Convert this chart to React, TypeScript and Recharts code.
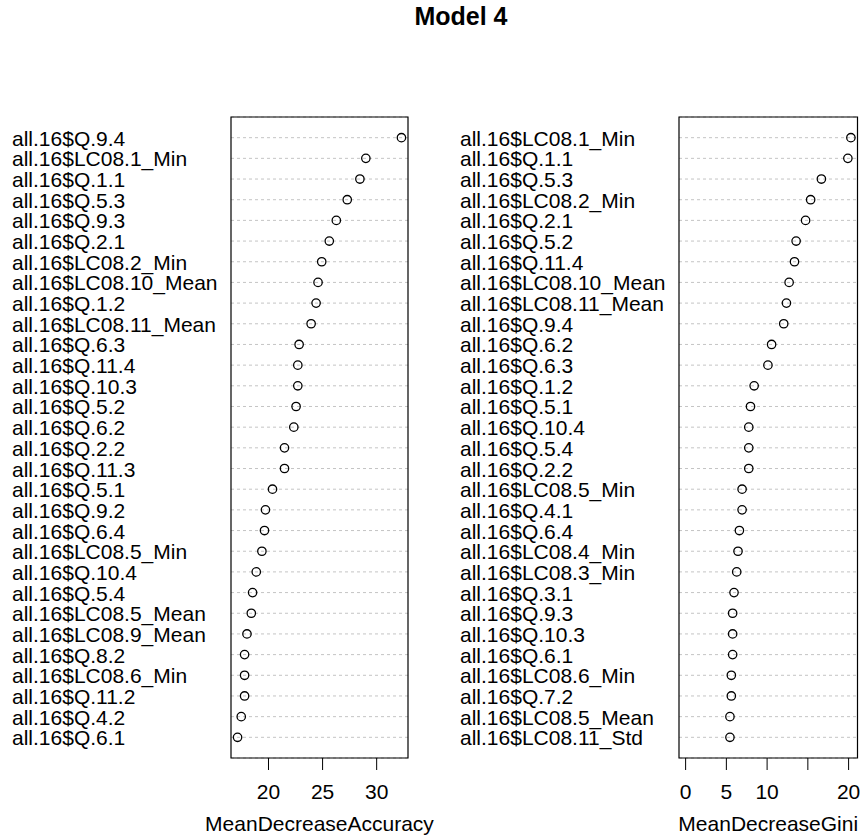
import React from "react";
import {
  ScatterChart,
  Scatter,
  XAxis,
  YAxis,
  CartesianGrid,
  ReferenceArea,
} from "recharts";

const accLabels = [
  "all.16$Q.9.4", "all.16$LC08.1_Min", "all.16$Q.1.1", "all.16$Q.5.3", "all.16$Q.9.3",
  "all.16$Q.2.1", "all.16$LC08.2_Min", "all.16$LC08.10_Mean", "all.16$Q.1.2", "all.16$LC08.11_Mean",
  "all.16$Q.6.3", "all.16$Q.11.4", "all.16$Q.10.3", "all.16$Q.5.2", "all.16$Q.6.2",
  "all.16$Q.2.2", "all.16$Q.11.3", "all.16$Q.5.1", "all.16$Q.9.2", "all.16$Q.6.4",
  "all.16$LC08.5_Min", "all.16$Q.10.4", "all.16$Q.5.4", "all.16$LC08.5_Mean", "all.16$LC08.9_Mean",
  "all.16$Q.8.2", "all.16$LC08.6_Min", "all.16$Q.11.2", "all.16$Q.4.2", "all.16$Q.6.1",
];
const accValues = [
  32.29, 29.0, 28.45, 27.28, 26.27, 25.62, 24.92, 24.58, 24.4, 23.94,
  22.83, 22.71, 22.71, 22.55, 22.34, 21.48, 21.48, 20.37, 19.72, 19.63,
  19.39, 18.87, 18.53, 18.41, 18.01, 17.79, 17.79, 17.79, 17.48, 17.14,
];
const accTicks = [20, 25, 30];
const accTickLabels = ["20", "25", "30"];

const giniLabels = [
  "all.16$LC08.1_Min", "all.16$Q.1.1", "all.16$Q.5.3", "all.16$LC08.2_Min", "all.16$Q.2.1",
  "all.16$Q.5.2", "all.16$Q.11.4", "all.16$LC08.10_Mean", "all.16$LC08.11_Mean", "all.16$Q.9.4",
  "all.16$Q.6.2", "all.16$Q.6.3", "all.16$Q.1.2", "all.16$Q.5.1", "all.16$Q.10.4",
  "all.16$Q.5.4", "all.16$Q.2.2", "all.16$LC08.5_Min", "all.16$Q.4.1", "all.16$Q.6.4",
  "all.16$LC08.4_Min", "all.16$LC08.3_Min", "all.16$Q.3.1", "all.16$Q.9.3", "all.16$Q.10.3",
  "all.16$Q.6.1", "all.16$LC08.6_Min", "all.16$Q.7.2", "all.16$LC08.5_Mean", "all.16$LC08.11_Std",
];
const giniValues = [
  20.28, 19.91, 16.66, 15.34, 14.72, 13.56, 13.36, 12.7, 12.37, 12.04,
  10.55, 10.1, 8.41, 7.96, 7.75, 7.75, 7.75, 6.93, 6.93, 6.6,
  6.43, 6.27, 5.94, 5.77, 5.77, 5.77, 5.61, 5.61, 5.44, 5.44,
];
const giniTicks = [0, 5, 10, 15, 20];
const giniTickLabels = ["0", "5", "10", "", "20"];

const TITLE = "Model 4";
const FONT = '"Liberation Sans", Arial, Helvetica, sans-serif';

function padDomain(lo: number, hi: number): [number, number] {
  const r = hi - lo;
  return [lo - 0.04 * r, hi + 0.04 * r];
}

type PanelProps = {
  labels: string[];
  values: number[];
  ticks: number[];
  tickLabels: string[];
  domain: [number, number];
  xTitle: string;
  left: number;
  width: number;
  yAxisWidth: number;
  marginRight: number;
  labelX: number;
};

function Panel(p: PanelProps) {
  const n = p.labels.length;
  const data = p.values.map((v, i) => ({ x: v, y: n - i }));
  const rowTicks = data.map((d) => d.y).reverse();
  const plotCenter = (p.yAxisWidth + p.width - p.marginRight) / 2;
  return (
    <div style={{ position: "absolute", left: p.left, top: 0 }}>
      <ScatterChart
        width={p.width}
        height={836}
        margin={{ top: 117, right: p.marginRight, bottom: 0, left: 0 }}
      >
        <CartesianGrid
          vertical={false}
          stroke="#c4c4c4"
          strokeDasharray="3 3"
        />
        <XAxis
          type="number"
          dataKey="x"
          domain={p.domain}
          allowDataOverflow
          ticks={p.ticks}
          interval={0}
          height={78}
          axisLine={false}
          tickSize={12}
          tickLine={{ stroke: "#000", strokeWidth: 1 }}
          tick={(t: any) => {
            const idx = p.ticks.indexOf(t.payload.value);
            return (
              <text
                x={t.x}
                y={799}
                textAnchor="middle"
                fontSize={21}
                fontFamily={FONT}
                fill="#000"
              >
                {idx >= 0 ? p.tickLabels[idx] : ""}
              </text>
            );
          }}
          label={() => (
            <text
              x={plotCenter}
              y={830.5}
              textAnchor="middle"
              fontSize={21}
              fontFamily={FONT}
              fill="#000"
            >
              {p.xTitle}
            </text>
          )}
        />
        <YAxis
          type="number"
          dataKey="y"
          domain={[0, n + 1]}
          allowDataOverflow
          ticks={rowTicks}
          interval={0}
          width={p.yAxisWidth}
          axisLine={false}
          tickLine={false}
          tick={(t: any) => (
            <text
              x={p.labelX}
              y={t.y + 8}
              textAnchor="start"
              fontSize={21}
              fontFamily={FONT}
              fill="#000"
            >
              {p.labels[n - t.payload.value]}
            </text>
          )}
        />
        <ReferenceArea
          x1={p.domain[0]}
          x2={p.domain[1]}
          y1={0}
          y2={n + 1}
          fill="none"
          fillOpacity={0}
          stroke="#000"
          strokeWidth={1.2}
          ifOverflow="visible"
        />
        <Scatter
          data={data}
          isAnimationActive={false}
          shape={(s: any) => (
            <circle
              cx={s.cx}
              cy={s.cy}
              r={4.2}
              fill="none"
              stroke="#000"
              strokeWidth={1.3}
            />
          )}
        />
      </ScatterChart>
    </div>
  );
}

export default function App() {
  const accDomain = padDomain(Math.min(...accValues), Math.max(...accValues));
  const giniDomain = padDomain(0, Math.max(...giniValues));
  return (
    <div
      style={{
        position: "absolute",
        left: 0,
        top: 0,
        width: 861,
        height: 836,
        background: "#fff",
        fontFamily: FONT,
        overflow: "hidden",
      }}
    >
      <div
        style={{
          position: "absolute",
          left: 361,
          top: 4,
          width: 200,
          textAlign: "center",
          fontSize: 25,
          lineHeight: "25px",
          fontWeight: "bold",
          color: "#000",
        }}
      >
        {TITLE}
      </div>
      <Panel
        labels={accLabels}
        values={accValues}
        ticks={accTicks}
        tickLabels={accTickLabels}
        domain={accDomain}
        xTitle="MeanDecreaseAccuracy"
        left={0}
        width={440}
        yAxisWidth={231}
        marginRight={32}
        labelX={12}
      />
      <Panel
        labels={giniLabels}
        values={giniValues}
        ticks={giniTicks}
        tickLabels={giniTickLabels}
        domain={giniDomain}
        xTitle="MeanDecreaseGini"
        left={440}
        width={421}
        yAxisWidth={239}
        marginRight={3.5}
        labelX={20}
      />
    </div>
  );
}
